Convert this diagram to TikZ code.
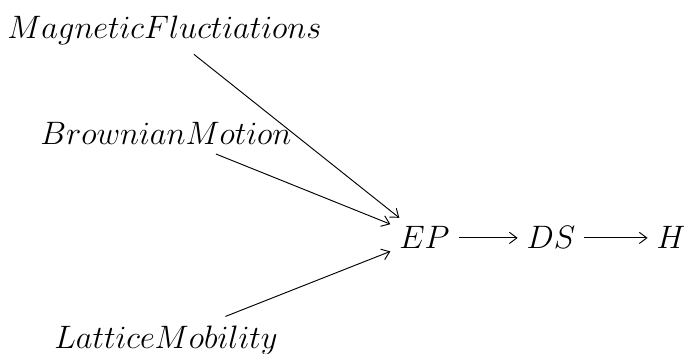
\documentclass[tikz,border=0pt]{standalone}
\usepackage{tikz}
\usetikzlibrary{arrows.meta}
\begin{document}
\begin{tikzpicture}[x=0.5326pt,y=-0.5326pt,
  lbl/.style={font=\fontsize{17.28}{20}\selectfont, inner sep=4.6pt, anchor=base},
  arr/.style={-{Straight Barb[length=4pt,width=6pt,line width=0.5pt]}, line width=0.5pt}]
\useasboundingbox (0,0) rectangle (684,354);
\node[lbl] (MF) at (164.5,39) {$MagneticFluctiations$};
\node[lbl] (BM) at (166,145) {$BrownianMotion$};
\node[lbl] (LM) at (166,348) {$LatticeMobility$};
\node[lbl] (EP) at (424.5,249) {$EP$};
\node[lbl] (DS) at (551,249) {$DS$};
\node[lbl] (H) at (671,249) {$H$};
\draw[arr] (MF) -- (EP);
\draw[arr] (BM) -- (EP);
\draw[arr] (LM) -- (EP);
\draw[arr] (EP) -- (DS);
\draw[arr] (DS) -- (H);
\end{tikzpicture}
\end{document}
